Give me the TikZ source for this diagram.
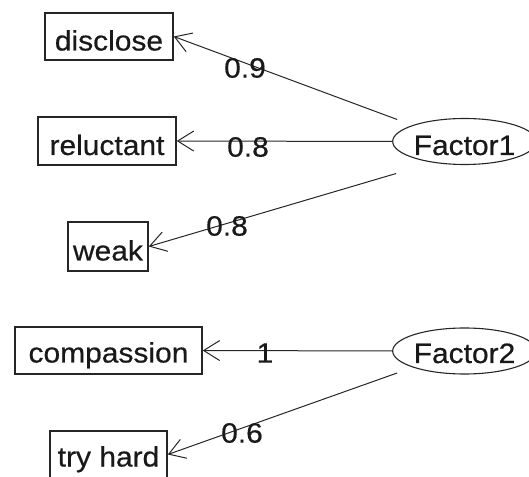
\documentclass[tikz,border=0pt]{standalone}
\usepackage{fontspec}
\setmainfont{Liberation Sans}[FakeStretch=1.07,FakeBold=0.5]
\usetikzlibrary{arrows.meta,shapes.geometric}
\begin{document}
\begin{tikzpicture}[x=1pt,y=1pt,
  every node/.style={font=\fontsize{28}{30}\selectfont, text=black!90},
  obs/.style={draw=black!85, line width=1.5pt, rectangle, inner sep=0pt, text height=28pt, text depth=0pt},
  lat/.style={draw=black!85, line width=1.1pt, ellipse, inner sep=0pt, minimum width=133, minimum height=46, text height=27pt, text depth=0pt},
  load/.style={draw=black!85, line width=1pt, -{Straight Barb[length=16pt,width=20pt,line width=1pt]}},
  lbl/.style={inner sep=0pt}
]
\useasboundingbox (0,0) rectangle (529,476);
\node[obs, minimum width=128, minimum height=47] (disclose) at (109,439.5) {disclose};
\node[obs, minimum width=138, minimum height=48] (reluctant) at (107,335) {reluctant};
\node[obs, minimum width=80, minimum height=49] (weak) at (108,229.5) {weak};
\node[obs, minimum width=187, minimum height=47, text height=24pt] (compassion) at (108.5,125.5) {compassion};
\node[obs, minimum width=117, minimum height=47, text height=24pt] (tryhard) at (108.5,21.5) {try hard};
\node[lat] (f1) at (464.5,334.5) {Factor1};
\node[lat, text height=24pt] (f2) at (464.5,125) {Factor2};
\draw[load] ([shift={(5,22)}]f1.west) -- (disclose.east);
\draw[load] (f1.west) -- (reluctant.east);
\draw[load] ([shift={(4,-32)}]f1.west) -- (weak.east);
\draw[load] (f2.west) -- (compassion.east);
\draw[load] ([shift={(5,-22)}]f2.west) -- (tryhard.east);
\node[lbl] (l1) at (245,408) {0.9};
\node[lbl] (l2) at (248,329) {0.8};
\node[lbl] (l3) at (227,250) {0.8};
\node[lbl] (l4) at (265,123) {1};
\node[lbl] (l5) at (242,43) {0.6};
\end{tikzpicture}
\end{document}
